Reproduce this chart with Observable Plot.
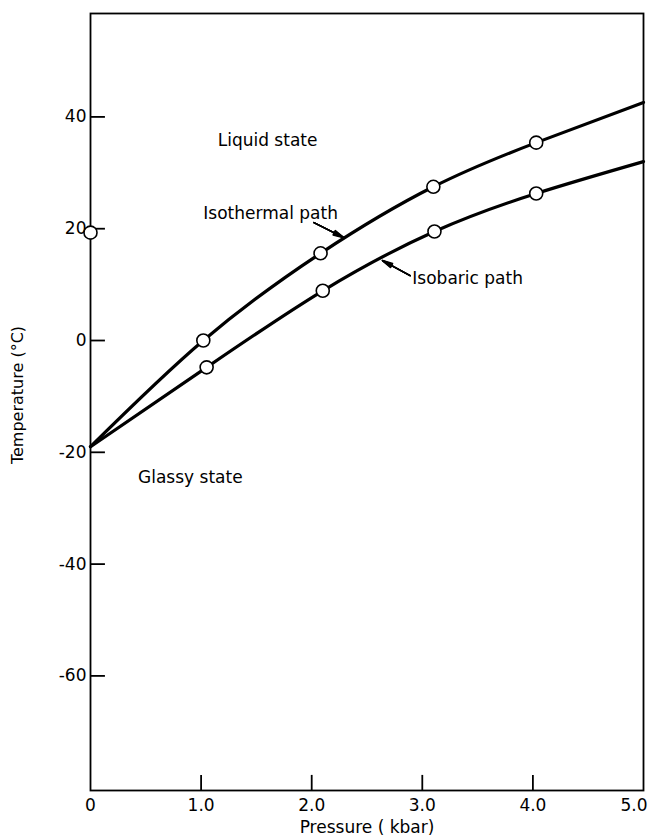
<!DOCTYPE html>
<html>
<head>
<meta charset="utf-8">
<script src="https://cdn.jsdelivr.net/npm/d3@7"></script>
<script src="https://cdn.jsdelivr.net/npm/@observablehq/plot@0.6"></script>
<style>
  html, body { margin: 0; padding: 0; background: #fff; }
  #chart svg { display: block; }
</style>
</head>
<body>
<div id="chart"></div>
<script>
// Axis ticks
const pressureTicks = [0, 1, 2, 3, 4, 5];          // kbar
const temperatureTicks = [-60, -40, -20, 0, 20, 40]; // °C

// Isothermal path: curve nodes (first and last are the curve ends, the rest are measured points)
const isothermalPressure = [0, 1.02, 2.08, 3.10, 4.03, 5.0];
const isothermalTemp     = [-19, 0, 15.6, 27.5, 35.4, 42.6];

// Isobaric path
const isobaricPressure = [0, 1.05, 2.10, 3.11, 4.03, 5.0];
const isobaricTemp     = [-19, -4.8, 8.9, 19.5, 26.3, 32.0];

// Point at atmospheric pressure
const ambientPressure = [0];
const ambientTemp = [19.3];

// Annotations
const stateLabels = ["Liquid state", "Glassy state"];
const stateP = [1.15, 0.43];
const stateT = [35.8, -24.5];

const pathLabels = ["Isothermal path", "Isobaric path"];
const pathLabelP = [1.02, 2.91];
const pathLabelT = [22.7, 11.1];
const arrowP1 = [2.02, 2.89], arrowT1 = [21.1, 11.6];
const arrowP2 = [2.29, 2.64], arrowT2 = [18.4, 14.3];

const yDomain = [-80.5, 58.5];

const toRows = (P, T) => P.map((p, i) => ({p, t: T[i]}));
const isothermal = toRows(isothermalPressure, isothermalTemp);
const isobaric = toRows(isobaricPressure, isobaricTemp);
const measured = [...isothermal.slice(1, -1), ...isobaric.slice(1, -1), ...toRows(ambientPressure, ambientTemp)];
const states = stateLabels.map((s, i) => ({s, p: stateP[i], t: stateT[i]}));
const paths = pathLabels.map((s, i) => ({s, p: pathLabelP[i], t: pathLabelT[i]}));
const arrows = arrowP1.map((p, i) => ({p1: p, t1: arrowT1[i], p2: arrowP2[i], t2: arrowT2[i]}));

const fmtP = d => d === 0 ? "0" : d.toFixed(1);

// leader arrows: stacked heads of decreasing angle give a solid, narrow arrowhead
const leader = [26, 18, 10, 4].map(angle =>
  Plot.arrow(arrows, {x1: "p1", y1: "t1", x2: "p2", y2: "t2", stroke: "#000", strokeWidth: 1.5, headLength: 11, headAngle: angle})
);

const chart = Plot.plot({
  width: 651,
  height: 835,
  marginLeft: 90,
  marginRight: 8,
  marginTop: 13,
  marginBottom: 45,
  x: {domain: [0, 5]},
  y: {domain: yDomain},
  style: {fontFamily: "DejaVu Sans, sans-serif", fontSize: "17px", color: "#000", background: "#fff"},
  marks: [
    Plot.frame({stroke: "#000", strokeWidth: 1.8}),
    // inward tick marks
    Plot.ruleY(temperatureTicks, {x1: 0, x2: 0.135, stroke: "#000", strokeWidth: 1.8}),
    Plot.ruleX(pressureTicks.slice(1, -1), {y1: yDomain[0], y2: yDomain[0] + 2.7, stroke: "#000", strokeWidth: 1.8}),
    // tick labels
    Plot.axisY(temperatureTicks, {tickSize: 0, tickPadding: 4, tickFormat: d => `${d}`, label: null, fontSize: 17}),
    Plot.axisX(pressureTicks.slice(0, -1), {tickSize: 0, tickPadding: 8, tickFormat: fmtP, label: null, fontSize: 17}),
    Plot.axisX(pressureTicks.slice(-1), {tickSize: 0, tickPadding: 8, tickFormat: fmtP, label: null, fontSize: 17, textAnchor: "end", dx: 4}),
    // axis titles
    Plot.text(["Pressure ( kbar)"], {frameAnchor: "bottom", dy: 42, text: d => d, fontSize: 17}),
    Plot.text(["Temperature (°C)"], {frameAnchor: "left", textAnchor: "middle", dx: -73, dy: -7, rotate: -90, text: d => d, fontSize: 16}),
    // curves
    Plot.line(isothermal, {x: "p", y: "t", curve: "natural", stroke: "#000", strokeWidth: 3.2}),
    Plot.line(isobaric, {x: "p", y: "t", curve: "natural", stroke: "#000", strokeWidth: 3.2}),
    // measured points
    Plot.dot(measured, {x: "p", y: "t", r: 6.5, fill: "#fff", stroke: "#000", strokeWidth: 1.6}),
    // labels and leader arrows
    Plot.text(states, {x: "p", y: "t", text: "s", textAnchor: "start", fontSize: 17}),
    Plot.text(paths, {x: "p", y: "t", text: "s", textAnchor: "start", fontSize: 17}),
    ...leader
  ]
});

document.getElementById("chart").append(chart);
</script>
</body>
</html>
